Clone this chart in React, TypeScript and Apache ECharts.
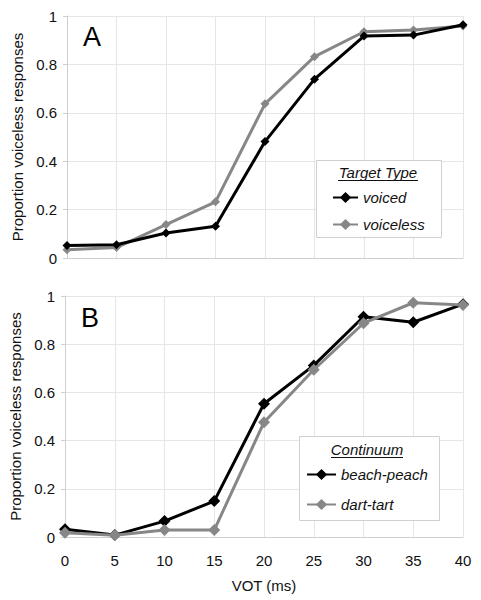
import React, { useEffect, useRef } from "react";
import * as echarts from "echarts";

const vot = [0, 5, 10, 15, 20, 25, 30, 35, 40];
const voiced = [0.052, 0.055, 0.103, 0.131, 0.481, 0.739, 0.917, 0.921, 0.964];
const voiceless = [0.034, 0.043, 0.138, 0.232, 0.637, 0.832, 0.935, 0.942, 0.959];
const beachPeach = [0.032, 0.008, 0.066, 0.149, 0.553, 0.712, 0.914, 0.891, 0.966];
const dartTart = [0.018, 0.007, 0.029, 0.029, 0.476, 0.694, 0.887, 0.972, 0.963];

const FONT = "Liberation Sans, Arial, sans-serif";
const BLACK = "#000000";
const GRAY = "#878787";
const GRID_LINE = "#e6e6e6";
const AXIS_LINE = "#cfcfcf";

const pair = (xs: number[], ys: number[]) => xs.map((x, i) => [x, ys[i]]);

export default function App() {
  const ref = useRef<HTMLDivElement>(null);
  useEffect(() => {
    if (!ref.current) return;
    const chart = echarts.init(ref.current, undefined, { renderer: "svg" });
    const xAxisBase = (gridIndex: number, showLabels: boolean) => ({
      type: "value",
      gridIndex,
      min: 0,
      max: 40,
      interval: 5,
      axisLine: { show: true, lineStyle: { color: AXIS_LINE, width: 1 } },
      axisTick: { show: false },
      axisLabel: {
        show: showLabels,
        color: "#111",
        fontFamily: FONT,
        fontSize: 15,
        margin: 16,
      },
      splitLine: { show: true, lineStyle: { color: GRID_LINE, width: 1 } },
      name: showLabels ? "VOT (ms)" : "",
      nameLocation: "middle",
      nameGap: 41,
      nameTextStyle: { color: "#111", fontFamily: FONT, fontSize: 15 },
    });
    const yAxisBase = (gridIndex: number) => ({
      type: "value",
      gridIndex,
      min: 0,
      max: 1,
      interval: 0.2,
      axisLine: { show: true, lineStyle: { color: AXIS_LINE, width: 1 } },
      axisTick: { show: true, length: 4, lineStyle: { color: AXIS_LINE } },
      axisLabel: {
        color: "#111",
        fontFamily: FONT,
        fontSize: 15,
        margin: 10,
      },
      splitLine: { show: true, lineStyle: { color: GRID_LINE, width: 1 } },
      name: "Proportion voiceless responses",
      nameLocation: "middle",
      nameGap: 42,
      nameTextStyle: { color: "#111", fontFamily: FONT, fontSize: 15 },
    });
    const lineSeries = (
      name: string,
      data: number[][],
      color: string,
      idx: number,
      size: number,
      z: number
    ) => ({
      type: "line",
      name,
      xAxisIndex: idx,
      yAxisIndex: idx,
      data,
      symbol: "diamond",
      symbolSize: size,
      z,
      lineStyle: { color, width: 3 },
      itemStyle: { color },
    });
    const legendText = { color: "#111", fontFamily: FONT, fontSize: 15, fontStyle: "italic" };
    chart.setOption({
      animation: false,
      backgroundColor: "#ffffff",
      grid: [
        { left: 67, top: 16, width: 396, height: 242 },
        { left: 65, top: 296, width: 398, height: 241 },
      ],
      xAxis: [xAxisBase(0, false), xAxisBase(1, true)],
      yAxis: [yAxisBase(0), yAxisBase(1)],
      legend: [
        {
          data: ["voiced", "voiceless"],
          orient: "vertical",
          left: 332,
          top: 190,
          itemWidth: 25,
          itemHeight: 14,
          itemGap: 12,
          padding: 0,
          textStyle: legendText,
          selectedMode: false,
          z: 20,
        },
        {
          data: ["beach-peach", "dart-tart"],
          orient: "vertical",
          left: 306,
          top: 467,
          itemWidth: 29,
          itemHeight: 14,
          itemGap: 15,
          padding: 0,
          textStyle: legendText,
          selectedMode: false,
          z: 20,
        },
      ],
      graphic: [
        { type: "rect", shape: { x: 316.5, y: 160.5, width: 125, height: 77 }, style: { fill: "#fff", stroke: "#d0d0d0", lineWidth: 1 }, z: 10 },
        { type: "text", x: 378, y: 172, style: { text: "Target Type", fill: "#111", font: "italic 15px " + FONT, align: "center", verticalAlign: "middle" }, z: 11 },
        { type: "line", shape: { x1: 338, y1: 180.5, x2: 418, y2: 180.5 }, style: { stroke: "#111", lineWidth: 1 }, z: 11 },
        { type: "rect", shape: { x: 299.5, y: 436.5, width: 140, height: 84 }, style: { fill: "#fff", stroke: "#d0d0d0", lineWidth: 1 }, z: 10 },
        { type: "text", x: 367, y: 449, style: { text: "Continuum", fill: "#111", font: "italic 15px " + FONT, align: "center", verticalAlign: "middle" }, z: 11 },
        { type: "line", shape: { x1: 331, y1: 457.5, x2: 403, y2: 457.5 }, style: { stroke: "#111", lineWidth: 1 }, z: 11 },
        { type: "text", x: 83, y: 37, style: { text: "A", fill: "#000", font: "27px " + FONT, verticalAlign: "middle" }, z: 11 },
        { type: "text", x: 81, y: 318, style: { text: "B", fill: "#000", font: "27px " + FONT, verticalAlign: "middle" }, z: 11 },
      ],
      series: [
        lineSeries("voiced", pair(vot, voiced), BLACK, 0, 9, 5),
        lineSeries("voiceless", pair(vot, voiceless), GRAY, 0, 9, 4),
        lineSeries("beach-peach", pair(vot, beachPeach), BLACK, 1, 12, 4),
        lineSeries("dart-tart", pair(vot, dartTart), GRAY, 1, 12, 5),
      ],
    });
    return () => chart.dispose();
  }, []);
  return (
    <div
      ref={ref}
      style={{ position: "absolute", left: 0, top: 0, width: 481, height: 600 }}
    />
  );
}
